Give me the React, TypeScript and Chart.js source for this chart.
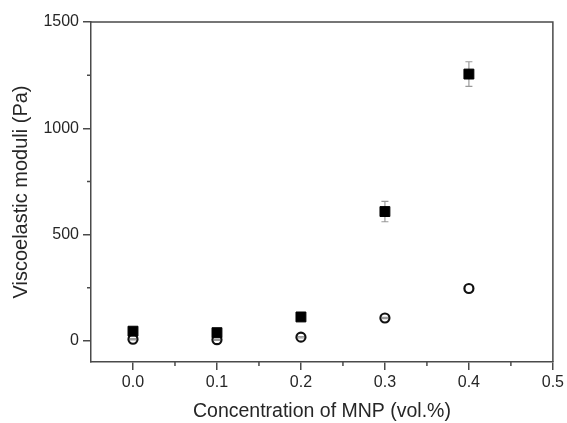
import React, { useEffect, useRef } from "react";
import { Chart, registerables } from "chart.js";

Chart.register(...registerables);

const concentrations = [0.0, 0.1, 0.2, 0.3, 0.4];
const storageModulus = [45, 38, 112, 608, 1255];
const storageError = [5, 5, 8, 48, 58];
const lossModulus = [7, 5, 17, 107, 246];
const lossError = [3, 3, 3, 3, 0];

const xTickValues = [0.0, 0.1, 0.2, 0.3, 0.4, 0.5];
const xMinorTicks = [0.05, 0.15, 0.25, 0.35, 0.45];
const yTickValues = [0, 500, 1000, 1500];
const yMinorTicks = [250, 750, 1250];

const AXIS_COLOR = "#4a4a4a";
const TEXT_COLOR = "#262626";
const FONT = "Arial, 'Liberation Sans', sans-serif";

const framePlugin = {
  id: "frameAndMinor",
  beforeDatasetsDraw(chart: any) {
    const ctx = chart.ctx;
    const x = chart.scales.x;
    const y = chart.scales.y;
    ctx.save();
    ctx.strokeStyle = "#9a9a9a";
    ctx.lineWidth = 1.2;
    concentrations.forEach((c, i) => {
      const e = storageError[i];
      if (!e) return;
      const px = x.getPixelForValue(c);
      const top = y.getPixelForValue(storageModulus[i] + e);
      const bot = y.getPixelForValue(storageModulus[i] - e);
      ctx.beginPath();
      ctx.moveTo(px, top);
      ctx.lineTo(px, bot);
      ctx.moveTo(px - 3.5, top);
      ctx.lineTo(px + 3.5, top);
      ctx.moveTo(px - 3.5, bot);
      ctx.lineTo(px + 3.5, bot);
      ctx.stroke();
    });
    ctx.restore();
  },
  afterDatasetsDraw(chart: any) {
    const ctx = chart.ctx;
    const x = chart.scales.x;
    const y = chart.scales.y;
    ctx.save();
    ctx.strokeStyle = "#9a9a9a";
    ctx.lineWidth = 1.2;
    concentrations.forEach((c, i) => {
      const e = lossError[i];
      if (!e) return;
      const px = x.getPixelForValue(c);
      const top = y.getPixelForValue(lossModulus[i] + e);
      const bot = y.getPixelForValue(lossModulus[i] - e);
      ctx.beginPath();
      ctx.moveTo(px, top);
      ctx.lineTo(px, bot);
      ctx.moveTo(px - 3, top);
      ctx.lineTo(px + 3, top);
      ctx.moveTo(px - 3, bot);
      ctx.lineTo(px + 3, bot);
      ctx.stroke();
    });
    ctx.restore();
  },
  afterDraw(chart: any) {
    const ctx = chart.ctx;
    const { left, right, top, bottom } = chart.chartArea;
    const x = chart.scales.x;
    const y = chart.scales.y;
    ctx.save();
    ctx.strokeStyle = AXIS_COLOR;
    ctx.lineWidth = 1.5;
    ctx.beginPath();
    ctx.moveTo(left, top);
    ctx.lineTo(right, top);
    ctx.lineTo(right, bottom);
    ctx.stroke();
    ctx.beginPath();
    xMinorTicks.forEach((v) => {
      const px = x.getPixelForValue(v);
      ctx.moveTo(px, bottom);
      ctx.lineTo(px, bottom + 4);
    });
    yMinorTicks.forEach((v) => {
      const py = y.getPixelForValue(v);
      ctx.moveTo(left, py);
      ctx.lineTo(left - 4, py);
    });
    ctx.stroke();
    ctx.restore();
  },
};

export default function App() {
  const ref = useRef<HTMLCanvasElement | null>(null);
  useEffect(() => {
    if (!ref.current) return;
    const chart = new Chart(ref.current, {
      type: "scatter",
      data: {
        datasets: [
          {
            label: "G'",
            data: concentrations.map((c, i) => ({ x: c, y: storageModulus[i] })),
            pointStyle: "rect",
            pointRadius: 7,
            backgroundColor: "#000",
            borderColor: "#000",
            borderWidth: 1,
          },
          {
            label: "G''",
            data: concentrations.map((c, i) => ({ x: c, y: lossModulus[i] })),
            pointStyle: "circle",
            pointRadius: 4.5,
            backgroundColor: "#fff",
            borderColor: "#111",
            borderWidth: 2.2,
          },
        ],
      },
      options: {
        animation: false,
        responsive: false,
        maintainAspectRatio: false,
        layout: { padding: { left: 0, top: 22, right: 13, bottom: 0 } },
        plugins: {
          legend: { display: false },
          tooltip: { enabled: false },
        },
        scales: {
          x: {
            type: "linear",
            min: -0.05,
            max: 0.5,
            afterBuildTicks: (s: any) => {
              s.ticks = xTickValues.map((v) => ({ value: v }));
            },
            afterFit: (s: any) => {
              s.height = 61;
            },
            ticks: {
              callback: (v: any) => Number(v).toFixed(1),
              font: { family: FONT, size: 16 },
              color: TEXT_COLOR,
              padding: 3,
              maxRotation: 0,
            },
            grid: {
              drawOnChartArea: false,
              drawTicks: true,
              tickLength: 8,
              color: AXIS_COLOR,
              lineWidth: 1.5,
            },
            border: { display: true, color: AXIS_COLOR, width: 1.5 },
            title: {
              display: true,
              text: "Concentration of MNP (vol.%)",
              font: { family: FONT, size: 19.5 },
              color: TEXT_COLOR,
              padding: { top: 0, bottom: 0 },
            },
          },
          y: {
            type: "linear",
            min: -100,
            max: 1500,
            afterBuildTicks: (s: any) => {
              s.ticks = yTickValues.map((v) => ({ value: v }));
            },
            afterFit: (s: any) => {
              s.width = 91;
            },
            ticks: {
              callback: (v: any) => String(v),
              font: { family: FONT, size: 16 },
              color: TEXT_COLOR,
              padding: 4,
            },
            grid: {
              drawOnChartArea: false,
              drawTicks: true,
              tickLength: 8,
              color: AXIS_COLOR,
              lineWidth: 1.5,
            },
            border: { display: true, color: AXIS_COLOR, width: 1.5 },
            title: {
              display: true,
              text: "Viscoelastic moduli (Pa)",
              font: { family: FONT, size: 20 },
              color: TEXT_COLOR,
              padding: { top: 9, bottom: 0 },
            },
          },
        },
      },
      plugins: [framePlugin],
    });
    return () => chart.destroy();
  }, []);
  return (
    <div style={{ position: "fixed", left: 0, top: 0, width: 567, height: 423, background: "#fff" }}>
      <canvas ref={ref} width={567} height={423} style={{ width: 567, height: 423 }} />
    </div>
  );
}
